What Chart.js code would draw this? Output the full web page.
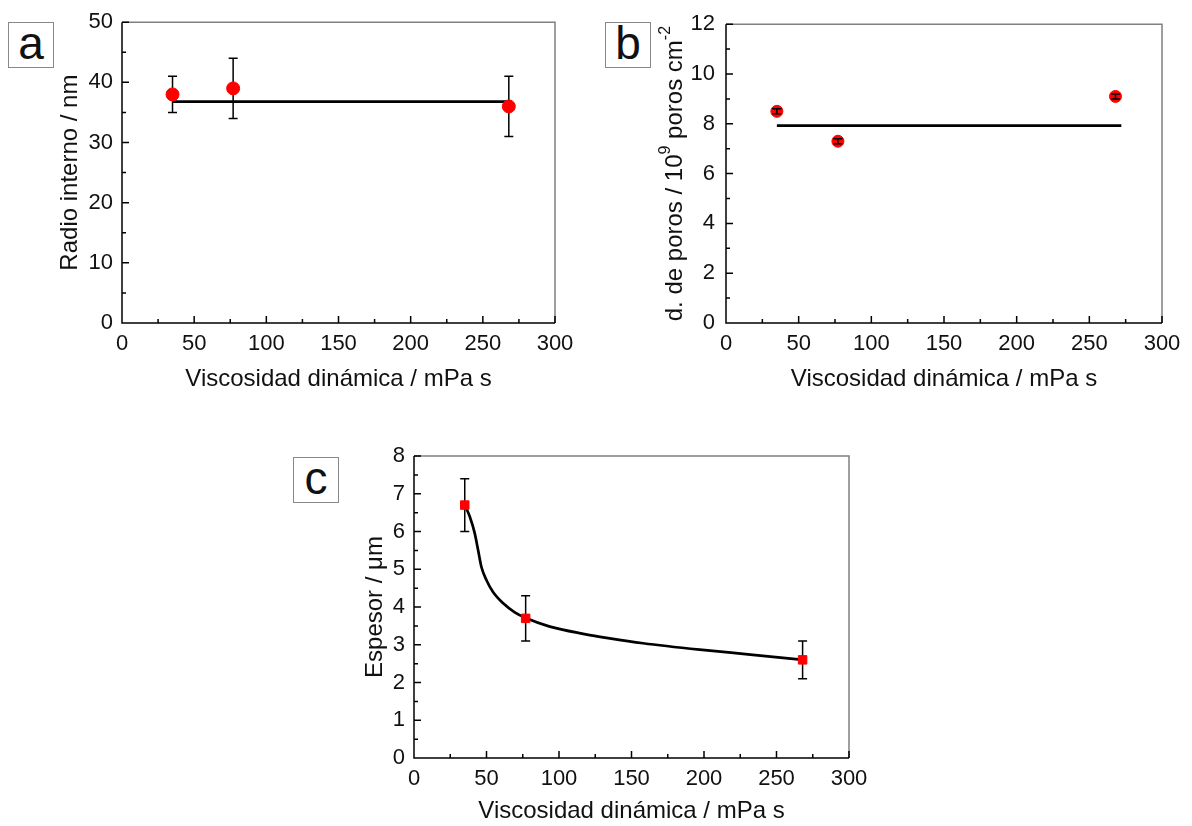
<!DOCTYPE html>
<html>
<head>
<meta charset="utf-8">
<script src="https://cdn.jsdelivr.net/npm/chart.js@4"></script>
<style>
  body { margin: 0; background: #fff; width: 1192px; height: 826px; position: relative; overflow: hidden; }
  canvas { position: absolute; }
  .tag { position: absolute; border: 1px solid #888; font: 46px Arial, "Liberation Sans", sans-serif;
         color: #111; text-align: center; box-sizing: border-box; background: #fff; line-height: 40px; }
</style>
</head>
<body>
<div class="tag" style="left:8px;top:22px;width:46px;height:46px;">a</div>
<div class="tag" style="left:605px;top:22px;width:46px;height:46px;">b</div>
<div class="tag" style="left:293px;top:457px;width:46px;height:46px;">c</div>
<canvas id="chartA" width="596" height="400" style="left:0;top:0"></canvas>
<canvas id="chartB" width="596" height="400" style="left:596px;top:0"></canvas>
<canvas id="chartC" width="620" height="406" style="left:280px;top:420px"></canvas>
<script>
// data
const viscosity = [35, 77, 268];

const radio = [38, 39, 36];
const radioErr = [3, 5, 5];
const radioFitX = [35, 270];
const radioFitY = [36.8, 36.8];

const poros = [8.5, 7.3, 9.1];
const porosErr = [0.1, 0.1, 0.1];
const porosFitX = [35, 272];
const porosFitY = [7.93, 7.93];

const espesor = [6.7, 3.7, 2.6];
const espesorErr = [0.7, 0.6, 0.5];
const espesorCurveX = [35, 38.5, 41.9, 44.2, 46.5, 50, 54.5, 61.5, 69.5, 77.6, 93.7, 116.7, 135, 158, 197, 232, 268.6];
const espesorCurveY = [6.7, 6.39, 5.95, 5.51, 5.06, 4.71, 4.40, 4.10, 3.86, 3.70, 3.48, 3.29, 3.17, 3.04, 2.87, 2.74, 2.60];

const xTitle = "Viscosidad dinámica / mPa s";

Chart.defaults.font.family = 'Arial, "Liberation Sans", sans-serif';
Chart.defaults.color = "#111";

const pts = (xs, ys) => xs.map((x, i) => ({ x: x, y: ys[i] }));

// error bars, under or over the markers
function drawErr(chart, o) {
  if (!o.err) return;
  const { ctx, scales: { x, y } } = chart;
  const ds = chart.data.datasets[0];
  ctx.save();
  ctx.strokeStyle = "#000";
  ctx.lineWidth = 1.5;
  ds.data.forEach((p, i) => {
    const px = x.getPixelForValue(p.x);
    const top = y.getPixelForValue(p.y + o.err[i]);
    const bot = y.getPixelForValue(p.y - o.err[i]);
    ctx.beginPath();
    ctx.moveTo(px, top); ctx.lineTo(px, bot);
    ctx.moveTo(px - o.cap, top); ctx.lineTo(px + o.cap, top);
    ctx.moveTo(px - o.cap, bot); ctx.lineTo(px + o.cap, bot);
    ctx.stroke();
  });
  ctx.restore();
}
const errorBars = {
  id: "errorBars",
  beforeDatasetsDraw(chart, args, o) { if (!o.onTop) drawErr(chart, o); },
  afterDatasetsDraw(chart, args, o) { if (o.onTop) drawErr(chart, o); }
};

// box frame with inward ticks
const frame = {
  id: "frame",
  afterDraw(chart, args, o) {
    const { ctx, chartArea: a, scales: { x, y } } = chart;
    ctx.save();
    ctx.lineWidth = 1.5;
    ctx.strokeStyle = "#808080";
    ctx.beginPath();
    ctx.moveTo(a.left, a.top); ctx.lineTo(a.right, a.top); ctx.lineTo(a.right, a.bottom);
    ctx.stroke();
    ctx.strokeStyle = "#000";
    ctx.beginPath();
    ctx.moveTo(a.left, a.top); ctx.lineTo(a.left, a.bottom); ctx.lineTo(a.right, a.bottom);
    for (let k = 0; x.min + k * o.xMinor <= x.max + 1e-9; k++) {
      const px = x.getPixelForValue(x.min + k * o.xMinor);
      ctx.moveTo(px, a.bottom); ctx.lineTo(px, a.bottom - (k % 2 ? 4 : 7));
    }
    for (let k = 0; y.min + k * o.yMinor <= y.max + 1e-9; k++) {
      const py = y.getPixelForValue(y.min + k * o.yMinor);
      ctx.moveTo(a.left, py); ctx.lineTo(a.left + (k % 2 ? 4 : 7), py);
    }
    ctx.stroke();
    ctx.restore();
  }
};

// rotated y title with superscripts (panel b)
const supTitle = {
  id: "supTitle",
  afterDraw(chart, args, o) {
    if (!o.parts) return;
    const { ctx, chartArea: a } = chart;
    const big = "24px " + Chart.defaults.font.family;
    const small = "16px " + Chart.defaults.font.family;
    ctx.save();
    let total = 0;
    o.parts.forEach(p => { ctx.font = p[1] ? small : big; total += ctx.measureText(p[0]).width; });
    ctx.translate(o.x, (a.top + a.bottom) / 2);
    ctx.rotate(-Math.PI / 2);
    ctx.fillStyle = "#111";
    ctx.textBaseline = "middle";
    let cx = -total / 2;
    o.parts.forEach(p => {
      ctx.font = p[1] ? small : big;
      ctx.fillText(p[0], cx, p[1] ? -9 : 0);
      cx += ctx.measureText(p[0]).width;
    });
    ctx.restore();
  }
};

Chart.register(errorBars, frame, supTitle);

function makeChart(id, s) {
  return new Chart(document.getElementById(id), {
    type: "scatter",
    data: { datasets: s.datasets },
    options: {
      responsive: false,
      animation: false,
      devicePixelRatio: 1,
      layout: { padding: { left: 0, top: s.top, right: s.right, bottom: 0 } },
      plugins: {
        legend: { display: false },
        tooltip: { enabled: false },
        errorBars: s.err,
        frame: { xMinor: 25, yMinor: s.yMinor },
        supTitle: s.sup || {}
      },
      scales: {
        x: {
          type: "linear", min: 0, max: 300,
          grid: { display: false, drawTicks: false },
          border: { display: false },
          ticks: { stepSize: 50, padding: 8, font: { size: 22 }, color: "#111" },
          title: { display: true, text: xTitle, font: { size: 24, lineHeight: 1.2 }, color: "#111",
                   padding: { top: 0, bottom: s.xTitlePad } },
          afterFit: sc => { sc.height = s.xHeight; }
        },
        y: {
          type: "linear", min: 0, max: s.yMax,
          grid: { display: false, drawTicks: false },
          border: { display: false },
          ticks: { stepSize: s.yStep, padding: s.yTickPad, font: { size: 22 }, color: "#111" },
          title: { display: !!s.yTitle, text: s.yTitle || "", font: { size: 24, lineHeight: 1.2 }, color: "#111",
                   padding: { top: s.yTitlePad, bottom: 0 } },
          afterFit: sc => { sc.width = s.yWidth; }
        }
      }
    }
  });
}

makeChart("chartA", {
  top: 22, right: 41, xHeight: 77, yWidth: 122, yMax: 50, yStep: 10, yMinor: 5,
  yTickPad: 9, xTitlePad: 6.6, yTitle: "Radio interno / nm", yTitlePad: 55.6,
  err: { err: radioErr, cap: 4.5, onTop: false },
  datasets: [
    { data: pts(viscosity, radio), backgroundColor: "#ff0000", borderColor: "#ff0000",
      pointRadius: 6.5, pointStyle: "circle" },
    { type: "line", data: pts(radioFitX, radioFitY), borderColor: "#000", borderWidth: 2.7,
      pointRadius: 0, showLine: true, fill: false }
  ]
});

makeChart("chartB", {
  top: 22, right: 30, xHeight: 77, yWidth: 130, yMax: 12, yStep: 2, yMinor: 1,
  yTickPad: 11, xTitlePad: 6.6,
  sup: { x: 79, parts: [["d. de poros / 10", 0], ["9", 1], [" poros cm", 0], ["-2", 1]] },
  err: { err: porosErr, cap: 4.5, onTop: true },
  datasets: [
    { data: pts(viscosity, poros), backgroundColor: "#ff0000", borderColor: "#ff0000",
      pointRadius: 6, pointStyle: "circle" },
    { type: "line", data: pts(porosFitX, porosFitY), borderColor: "#000", borderWidth: 2.7,
      pointRadius: 0, showLine: true, fill: false }
  ]
});

makeChart("chartC", {
  top: 36, right: 51, xHeight: 68, yWidth: 134, yMax: 8, yStep: 1, yMinor: 0.5,
  yTickPad: 9, xTitlePad: 0, yTitle: "Espesor / μm", yTitlePad: 80.6,
  err: { err: espesorErr, cap: 4.5, onTop: false },
  datasets: [
    { data: pts(viscosity, espesor), backgroundColor: "#ff0000", borderColor: "#ff0000",
      pointRadius: 6, pointStyle: "rect" },
    { type: "line", data: pts(espesorCurveX, espesorCurveY), borderColor: "#000", borderWidth: 2.7,
      pointRadius: 0, showLine: true, fill: false, cubicInterpolationMode: "monotone" }
  ]
});
</script>
</body>
</html>
